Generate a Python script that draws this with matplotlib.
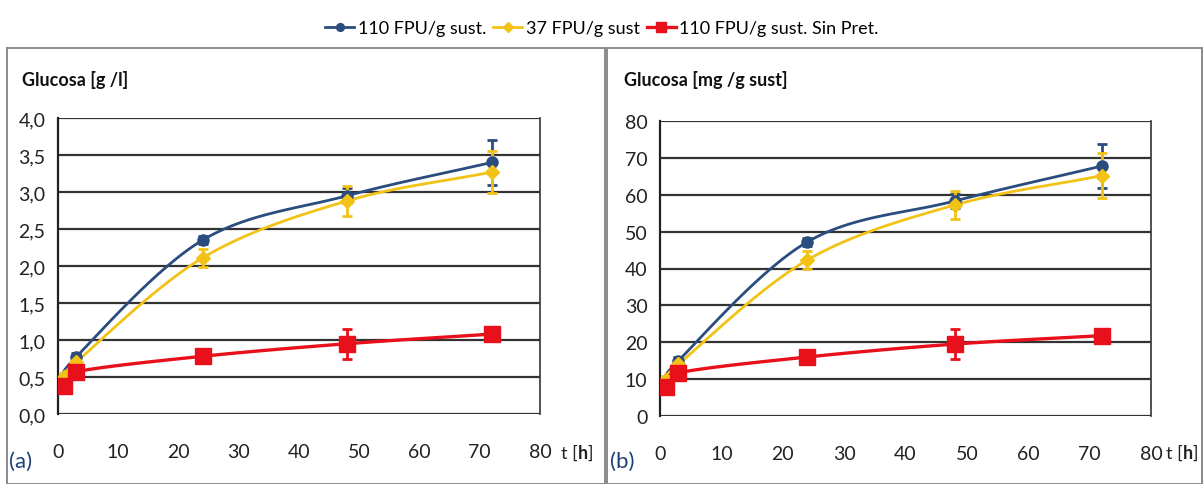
#!/usr/bin/env python3
"""Glucose release curves, two panels (g/l and mg/g sust)."""
import matplotlib
matplotlib.use("Agg")
import matplotlib.pyplot as plt
from matplotlib.patches import Rectangle
from matplotlib.ticker import FuncFormatter
from matplotlib.transforms import offset_copy
import numpy as np

plt.rcParams["font.family"] = ["Lato", "DejaVu Sans"]

t_h = [1, 3, 24, 48, 72]
series_labels = ["110 FPU/g sust.", "37 FPU/g sust", "110 FPU/g sust. Sin Pret."]

# panel (a): Glucosa [g/l]
a_110 = [0.45, 0.77, 2.35, 2.95, 3.40]
a_110_err = [0.03, 0.05, 0.05, 0.10, 0.30]
a_37 = [0.50, 0.70, 2.11, 2.88, 3.27]
a_37_err = [0.05, 0.05, 0.12, 0.20, 0.28]
a_sp = [0.38, 0.57, 0.78, 0.95, 1.08]
a_sp_err = [0.05, 0.05, 0.04, 0.20, 0.06]

# panel (b): Glucosa [mg/g sust]
b_110 = [9.0, 15.0, 47.2, 58.3, 67.8]
b_110_err = [1.0, 1.0, 1.0, 2.0, 6.0]
b_37 = [9.8, 14.0, 42.3, 57.2, 65.2]
b_37_err = [1.0, 1.0, 2.5, 3.7, 6.0]
b_sp = [7.8, 11.7, 16.0, 19.5, 21.8]
b_sp_err = [1.0, 1.0, 0.8, 4.0, 1.2]

colors = ["#2B4C7E", "#F2C316", "#E8101A"]
markers = ["o", "D", "s"]
msizes = [8, 7.5, 11]
lwidths = [2.0, 2.0, 2.4]


def smooth(x, y, n=30):
    # Catmull-Rom curve through the points (Excel-like smoothed line)
    x = np.asarray(x, float)
    y = np.asarray(y, float)
    px = np.concatenate([[2 * x[0] - x[1]], x, [2 * x[-1] - x[-2]]])
    py = np.concatenate([[2 * y[0] - y[1]], y, [2 * y[-1] - y[-2]]])
    xs, ys = [], []
    s = np.linspace(0, 1, n)
    for i in range(1, len(px) - 2):
        for P, out in ((px, xs), (py, ys)):
            p0, p1, p2, p3 = P[i - 1], P[i], P[i + 1], P[i + 2]
            out.extend(0.5 * ((2 * p1) + (-p0 + p2) * s
                              + (2 * p0 - 5 * p1 + 4 * p2 - p3) * s ** 2
                              + (-p0 + 3 * p1 - 3 * p2 + p3) * s ** 3))
    return xs, ys


def chain_text(fig, x, y, parts, **kw):
    # draw text pieces one after another (mixed weights)
    r = fig.canvas.get_renderer()
    trans = fig.transFigure
    dx = 0.0
    for s, weight in parts:
        t = fig.text(x, y, s, fontweight=weight,
                     transform=offset_copy(trans, fig=fig, x=dx, y=0, units="dots"),
                     **kw)
        dx += t.get_window_extent(renderer=r).width


def draw_panel(ax, data, ymax, ystep, fmt, ylabel, tag, fig, xlab_x, tag_x):
    handles = []
    for (vals, errs), c, m, ms, lw in zip(data, colors, markers, msizes, lwidths):
        xs, ys = smooth(t_h, vals)
        ax.plot(xs, ys, color=c, lw=lw, zorder=3)
        ax.errorbar(t_h, vals, yerr=errs, fmt="none", ecolor=c, elinewidth=2,
                    capsize=3.5, capthick=2, zorder=4)
        ax.plot(t_h, vals, m, color=c, ms=ms, zorder=5)
        h, = ax.plot([], [], color=c, lw=lw, marker=m, ms=ms * 0.7)
        handles.append(h)
    ax.set_xlim(0, 80)
    ax.set_ylim(0, ymax)
    ax.set_xticks(range(0, 81, 10))
    ax.set_yticks(np.arange(0, ymax + ystep / 2, ystep))
    ax.yaxis.set_major_formatter(FuncFormatter(fmt))
    ax.grid(axis="y", color="#333333", lw=1.6)
    ax.set_axisbelow(True)
    for sp in ("top", "bottom"):
        ax.spines[sp].set_visible(False)
    ax.spines["left"].set_linewidth(1.6)
    ax.spines["right"].set_linewidth(1.2)
    ax.spines["left"].set_color("#222222")
    ax.spines["right"].set_color("#333333")
    ax.tick_params(axis="both", length=0, labelsize=14, colors="#222222")
    ax.tick_params(axis="x", pad=21)
    ax.tick_params(axis="y", pad=9)
    bb = ax.get_position()
    fig.text(bb.x0 - 0.030, 0.835, ylabel, fontsize=13, fontweight="bold",
             color="#111111", va="center", ha="left")
    fig.text(tag_x, 0.048, tag, fontsize=16, color="#1F3F7A", va="center")
    chain_text(fig, xlab_x, 0.065, [("t [", "normal"), ("h", "bold"), ("]", "normal")],
               fontsize=13, color="#222222", va="center")
    return handles


fig = plt.figure(figsize=(12.04, 4.85), dpi=100)
H, W = 485.0, 1204.0

# panel frames
for x0, x1 in ((7, 605), (607, 1202)):
    fig.patches.append(Rectangle((x0 / W, 0), (x1 - x0) / W, 1 - 49 / H,
                                 transform=fig.transFigure, fill=False,
                                 edgecolor="#8a8a8a", lw=1.4))

ax1 = fig.add_axes([58 / W, 1 - 415 / H, (540 - 58) / W, (415 - 119) / H])
ax2 = fig.add_axes([660 / W, 1 - 417 / H, (1151 - 660) / W, (417 - 122) / H])

handles = draw_panel(ax1, [(a_110, a_110_err), (a_37, a_37_err), (a_sp, a_sp_err)],
                     4.0, 0.5, lambda v, p: f"{v:.1f}".replace(".", ","),
                     "Glucosa [g /l]", "(a)", fig, 561 / W, 9 / W)
draw_panel(ax2, [(b_110, b_110_err), (b_37, b_37_err), (b_sp, b_sp_err)],
           80, 10, lambda v, p: f"{v:.0f}",
           "Glucosa [mg /g sust]", "(b)", fig, 1166 / W, 610 / W)

fig.legend(handles, series_labels, loc="center", bbox_to_anchor=(0.5, 0.94),
           ncol=3, frameon=False, fontsize=13, handlelength=1.6,
           handletextpad=0.2, columnspacing=0.4)

fig.savefig("out.png", dpi=100)
